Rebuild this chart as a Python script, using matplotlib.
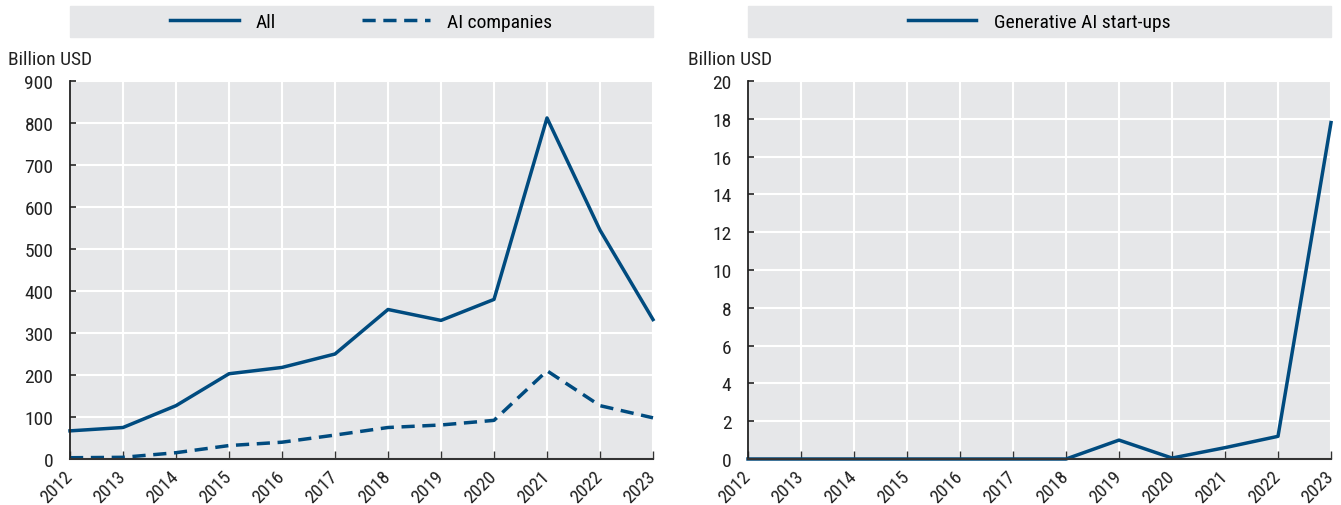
import matplotlib.pyplot as plt
from matplotlib.patches import Rectangle
from matplotlib import font_manager

years = list(range(2012, 2024))
all_vc = [67, 75, 127, 203, 218, 250, 356, 330, 380, 812, 545, 332]
ai_vc = [3, 4, 15, 32, 40, 57, 75, 81, 92, 210, 127, 98]
genai_vc = [0, 0, 0, 0, 0, 0, 0, 1.0, 0.05, 0.6, 1.2, 17.8]

names = {f.name for f in font_manager.fontManager.ttflist}
fam = 'DejaVu Sans'
for cand in ['Liberation Sans Narrow', 'Arial Narrow', 'Roboto Condensed',
             'Archivo Narrow', 'Barlow Semi Condensed']:
    if cand in names:
        fam = cand
        break
plt.rcParams['font.family'] = [fam, 'DejaVu Sans']
plt.rcParams['font.size'] = 14

blue = '#004b7f'
bg = '#e6e7e9'
txt = '#222222'

fig = plt.figure(figsize=(13.41, 5.06), dpi=100)
ax1 = fig.add_axes([70/1341, 46/506, 583/1341, 378/506])
ax2 = fig.add_axes([748/1341, 46/506, 583/1341, 378/506])


def style(ax, ymax, step):
    ax.set_facecolor(bg)
    ax.set_xlim(2012, 2023)
    ax.set_ylim(0, ymax)
    ax.set_xticks(years)
    ax.set_xticklabels([str(y) for y in years], rotation=45, ha='right',
                       va='center', rotation_mode='anchor')
    ax.set_yticks(range(0, ymax + 1, step))
    ax.grid(True, color='white', linewidth=1.5)
    ax.set_axisbelow(True)
    for s in ['top', 'right']:
        ax.spines[s].set_visible(False)
    ax.spines['left'].set_linewidth(1.3)
    ax.spines['left'].set_color('#222222')
    ax.spines['bottom'].set_linewidth(1.5)
    ax.spines['bottom'].set_color('#333333')
    ax.tick_params(axis='y', direction='in', length=4, width=1.2,
                   color='#222222', pad=12, colors=txt, labelsize=14)
    ax.tick_params(axis='x', direction='in', length=6, width=1,
                   color='#333333', pad=10, colors=txt, labelsize=13.5)


style(ax1, 900, 100)
style(ax2, 20, 2)

l1, = ax1.plot(years, all_vc, color=blue, lw=2.5, label='All', clip_on=False)
l2, = ax1.plot(years, ai_vc, color=blue, lw=2.5, ls=(0, (3.8, 2.2)),
               label='AI companies', clip_on=False)
l3, = ax2.plot(years, genai_vc, color=blue, lw=2.5,
               label='Generative AI start-ups', clip_on=False)

for x0, handles in [(70, [l1, l2]), (748, [l3])]:
    fig.patches.append(Rectangle((x0/1341, 1 - 38/506), 583/1341, 31/506,
                                 transform=fig.transFigure, color=bg, zorder=0))
    fig.legend(handles=handles, loc='center',
               bbox_to_anchor=((x0 + 291.5)/1341, 1 - 22.5/506),
               ncol=len(handles), frameon=False, handlelength=3.5,
               columnspacing=4.4, handletextpad=0.9)

fig.text(8/1341, 1 - 60/506, 'Billion USD', va='center', ha='left', color=txt)
fig.text(688/1341, 1 - 60/506, 'Billion USD', va='center', ha='left', color=txt)

fig.savefig('out.png', dpi=100)
